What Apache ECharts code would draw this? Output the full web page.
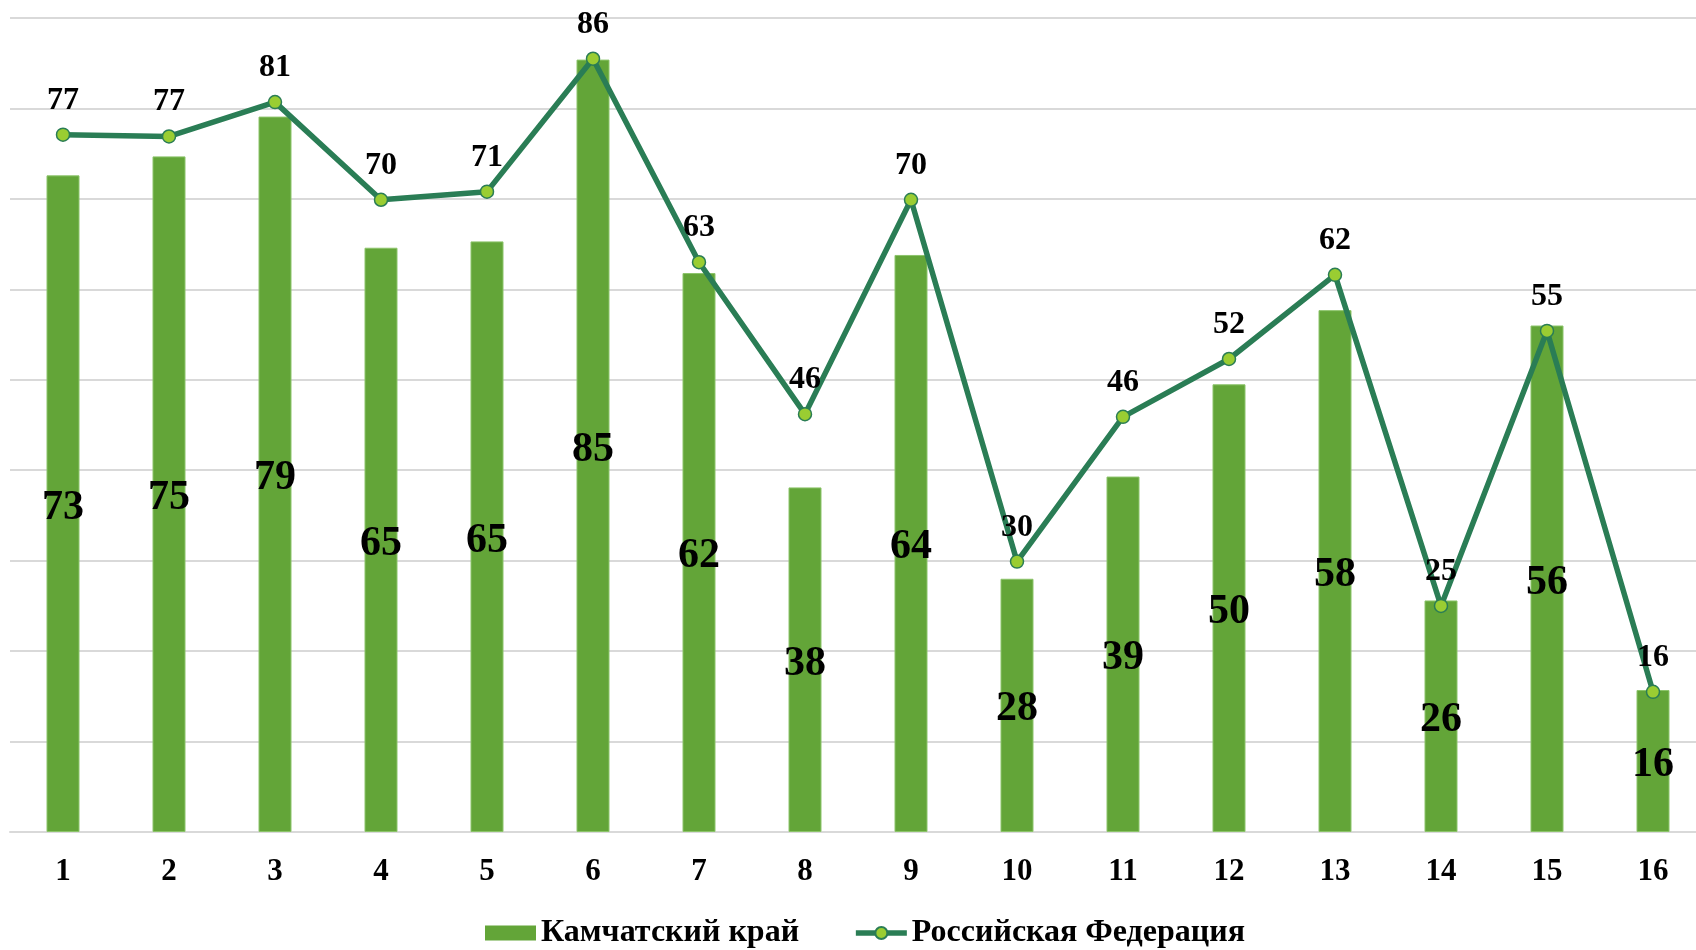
<!DOCTYPE html>
<html>
<head>
<meta charset="utf-8">
<script src="https://cdn.jsdelivr.net/npm/echarts@6/dist/echarts.min.js"></script>
<style>html,body{margin:0;padding:0;background:#fff;overflow:hidden;width:1696px;height:950px}#c{width:1712px;height:950px}</style>
</head>
<body>
<div id="c"></div>
<script>
const categories = ['1','2','3','4','5','6','7','8','9','10','11','12','13','14','15','16'];
const kamchatka = [72.6, 74.7, 79.1, 64.6, 65.3, 85.4, 61.8, 38.1, 63.8, 28.0, 39.3, 49.5, 57.7, 25.6, 56.0, 15.7];
const russia = [77.1, 76.9, 80.7, 69.9, 70.8, 85.5, 63.0, 46.2, 69.9, 29.9, 45.9, 52.3, 61.6, 25.0, 55.4, 15.5];
const seriesNames = ['Камчатский край', 'Российская Федерация'];

const FONT = '"Liberation Serif", "Times New Roman", serif';
const fmt = p => String(Math.round(p.value));
const chart = echarts.init(document.getElementById('c'));
chart.setOption({
  animation: false,
  backgroundColor: '#ffffff',
  grid: { left: 10, top: 18, bottom: 118, right: 6, containLabel: false },
  legend: {
    top: 912,
    left: 480,
    itemWidth: 51,
    itemHeight: 15,
    itemGap: 54,
    textStyle: { fontFamily: FONT, fontWeight: 'bold', fontSize: 32, color: '#000' },
    data: [
      { name: seriesNames[0], icon: 'rect', itemStyle: { borderWidth: 0 } },
      { name: seriesNames[1], lineStyle: { width: 5.5 } }
    ]
  },
  xAxis: {
    type: 'category',
    data: categories,
    axisLine: { lineStyle: { color: '#d9d9d9', width: 2 } },
    axisTick: { show: false },
    axisLabel: { margin: 24, fontFamily: FONT, fontWeight: 'bold', fontSize: 31, color: '#000' }
  },
  yAxis: {
    type: 'value',
    min: 0,
    max: 90,
    interval: 10,
    axisLine: { show: false },
    axisTick: { show: false },
    axisLabel: { show: false },
    splitLine: { lineStyle: { color: '#d9d9d9', width: 2 } }
  },
  series: [
    {
      name: seriesNames[0],
      type: 'bar',
      data: kamchatka,
      barWidth: 33,
      itemStyle: { color: '#63a538', borderColor: '#8cc46a', borderWidth: 1 },
      label: { show: true, position: 'inside', offset: [0, 4], formatter: fmt, fontFamily: FONT, fontWeight: 'bold', fontSize: 42, color: '#000' }
    },
    {
      name: seriesNames[1],
      type: 'line',
      data: russia,
      symbol: 'circle',
      symbolSize: 13,
      lineStyle: { color: '#2a7d55', width: 5.5 },
      itemStyle: { color: '#9acd32', borderColor: '#2a7d55', borderWidth: 1.5 },
      label: { show: true, position: 'top', distance: 11, formatter: fmt, fontFamily: FONT, fontWeight: 'bold', fontSize: 32, color: '#000' },
      z: 5
    }
  ]
});
</script>
</body>
</html>
